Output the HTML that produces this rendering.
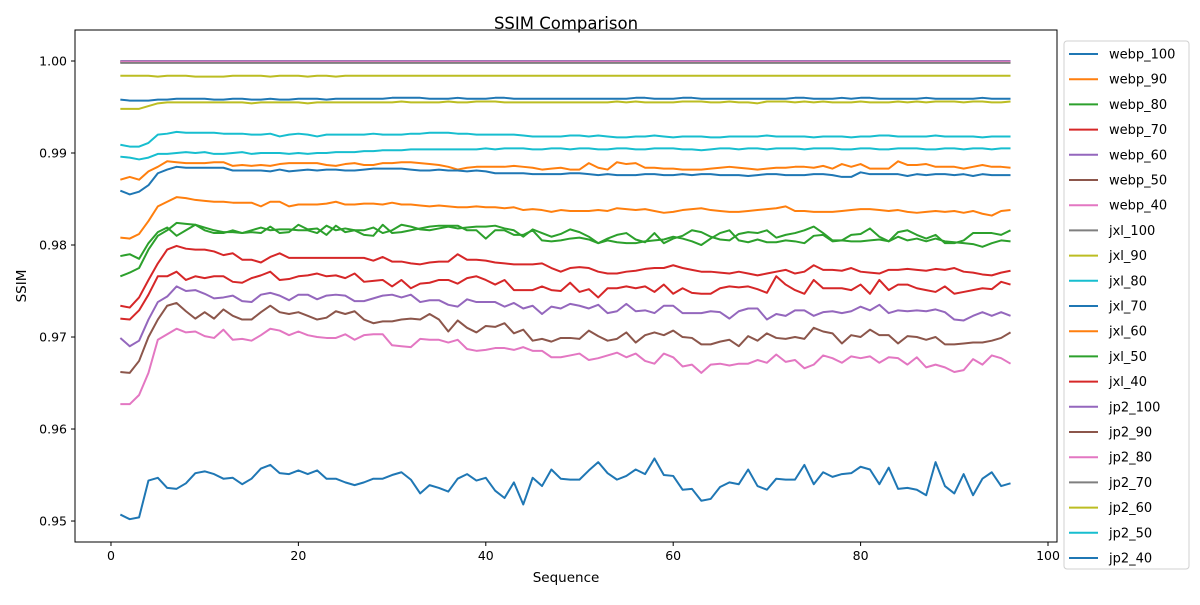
<!DOCTYPE html>
<html><head><meta charset="utf-8"><style>
body{margin:0;background:#fff;font-family:"Liberation Sans","DejaVu Sans",sans-serif}
svg text{font-family:"DejaVu Sans","Liberation Sans",sans-serif;fill:#000}
</style></head><body>
<svg id="chart" width="1200" height="600" xmlns="http://www.w3.org/2000/svg">
<rect width="1200" height="600" fill="#fff"/>
<text x="566" y="29" font-size="16.5" text-anchor="middle">SSIM Comparison</text>
<g id="grid"></g>
<g id="lines"></g>
<rect x="75" y="30" width="982" height="512" fill="none" stroke="#000" stroke-width="1"/>
<g id="axes"></g>
<text x="566" y="582" font-size="13.5" text-anchor="middle">Sequence</text>
<text transform="translate(26,286) rotate(-90)" font-size="13.5" text-anchor="middle">SSIM</text>
<g id="legend"></g>
</svg>
<script>
const seriesNames = ["webp_100","webp_90","webp_80","webp_70","webp_60","webp_50","webp_40","jxl_100","jxl_90","jxl_80","jxl_70","jxl_60","jxl_50","jxl_40","jp2_100","jp2_90","jp2_80","jp2_70","jp2_60","jp2_50","jp2_40"];
const seriesColors = ["#1f77b4","#ff7f0e","#2ca02c","#d62728","#9467bd","#8c564b","#e377c2","#7f7f7f","#bcbd22","#17becf","#1f77b4","#ff7f0e","#2ca02c","#d62728","#9467bd","#8c564b","#e377c2","#7f7f7f","#bcbd22","#17becf","#1f77b4"];
const xTicks = [0,20,40,60,80,100];
const yTicks = [0.95,0.96,0.97,0.98,0.99,1.00];
const yTickLabels = ["0.95","0.96","0.97","0.98","0.99","1.00"];

const webp_100 = [.9958,.9957,.9957,.9957,.9958,.9958,.9959,.9959,.9959,.9959,.9958,.9958,.9959,.9959,.9958,.9958,.9959,.9958,.9958,.9959,.9959,.9959,.9958,.9959,.9959,.9959,.9959,.9959,.9959,.9960,.9960,.9960,.9960,.9959,.9959,.9959,.9960,.9959,.9959,.9959,.9960,.9960,.9959,.9959,.9959,.9959,.9959,.9959,.9959,.9959,.9959,.9959,.9959,.9959,.9959,.9960,.9960,.9959,.9959,.9959,.9960,.9960,.9959,.9959,.9959,.9959,.9959,.9959,.9959,.9959,.9959,.9959,.9960,.9960,.9959,.9959,.9959,.9960,.9959,.9960,.9960,.9959,.9959,.9959,.9959,.9959,.9960,.9959,.9959,.9959,.9959,.9959,.9960,.9959,.9959,.9959];
const webp_90 = [.9871,.9874,.9871,.9880,.9885,.9891,.9890,.9889,.9889,.9889,.9890,.9890,.9886,.9887,.9886,.9887,.9886,.9888,.9889,.9889,.9889,.9889,.9887,.9886,.9888,.9889,.9887,.9887,.9889,.9889,.9890,.9890,.9889,.9888,.9887,.9885,.9882,.9884,.9885,.9885,.9885,.9885,.9886,.9885,.9884,.9882,.9883,.9884,.9882,.9882,.9889,.9884,.9882,.9890,.9888,.9889,.9884,.9884,.9883,.9883,.9882,.9882,.9882,.9883,.9884,.9885,.9884,.9883,.9882,.9883,.9884,.9884,.9885,.9885,.9884,.9886,.9883,.9888,.9885,.9888,.9883,.9883,.9883,.9891,.9887,.9887,.9888,.9885,.9885,.9885,.9883,.9885,.9887,.9885,.9885,.9884];
const webp_80 = [.9788,.9790,.9785,.9802,.9814,.9819,.9810,.9816,.9822,.9816,.9813,.9813,.9816,.9813,.9816,.9819,.9816,.9817,.9817,.9816,.9816,.9813,.9821,.9816,.9818,.9816,.9816,.9819,.9813,.9816,.9822,.9820,.9817,.9816,.9818,.9820,.9818,.9819,.9820,.9820,.9821,.9818,.9816,.9809,.9817,.9813,.9809,.9812,.9817,.9814,.9809,.9802,.9807,.9811,.9813,.9806,.9803,.9813,.9802,.9807,.9810,.9816,.9814,.9809,.9806,.9805,.9812,.9814,.9813,.9816,.9808,.9811,.9813,.9816,.9820,.9813,.9805,.9805,.9811,.9812,.9818,.9809,.9804,.9814,.9816,.9811,.9807,.9811,.9802,.9802,.9805,.9813,.9813,.9813,.9811,.9816];
const webp_70 = [.9734,.9732,.9743,.9762,.9780,.9795,.9799,.9796,.9795,.9795,.9793,.9789,.9791,.9784,.9784,.9781,.9787,.9791,.9786,.9786,.9786,.9786,.9786,.9786,.9786,.9786,.9786,.9783,.9787,.9782,.9782,.9780,.9779,.9781,.9782,.9782,.9790,.9784,.9784,.9783,.9781,.9780,.9779,.9779,.9779,.9780,.9775,.9771,.9775,.9776,.9775,.9771,.9769,.9769,.9771,.9772,.9774,.9775,.9775,.9778,.9775,.9773,.9771,.9771,.9770,.9769,.9771,.9769,.9767,.9769,.9771,.9773,.9769,.9771,.9778,.9773,.9773,.9772,.9775,.9771,.9770,.9769,.9773,.9773,.9774,.9773,.9772,.9774,.9773,.9775,.9771,.9770,.9768,.9767,.9770,.9772];
const webp_60 = [.9699,.9690,.9696,.9719,.9738,.9744,.9755,.9750,.9751,.9747,.9742,.9743,.9745,.9739,.9738,.9746,.9748,.9745,.9740,.9746,.9746,.9741,.9745,.9746,.9745,.9739,.9739,.9742,.9745,.9746,.9743,.9746,.9738,.9740,.9740,.9735,.9733,.9741,.9738,.9738,.9738,.9733,.9737,.9731,.9734,.9725,.9733,.9731,.9736,.9734,.9731,.9735,.9726,.9728,.9736,.9728,.9729,.9726,.9734,.9734,.9726,.9726,.9726,.9728,.9727,.9720,.9728,.9731,.9731,.9719,.9725,.9723,.9729,.9729,.9723,.9727,.9728,.9726,.9728,.9733,.9729,.9735,.9726,.9729,.9728,.9729,.9728,.9730,.9727,.9719,.9718,.9723,.9727,.9723,.9727,.9723];
const webp_50 = [.9662,.9661,.9674,.9700,.9719,.9734,.9737,.9728,.9720,.9727,.9720,.9730,.9723,.9719,.9719,.9727,.9734,.9727,.9725,.9727,.9723,.9719,.9721,.9728,.9725,.9728,.9719,.9715,.9717,.9717,.9719,.9720,.9719,.9725,.9719,.9706,.9718,.9710,.9705,.9712,.9711,.9715,.9704,.9708,.9696,.9698,.9695,.9699,.9699,.9698,.9707,.9701,.9696,.9698,.9705,.9694,.9702,.9705,.9702,.9707,.9700,.9699,.9692,.9692,.9695,.9697,.9690,.9701,.9696,.9704,.9699,.9698,.9700,.9698,.9710,.9706,.9704,.9693,.9702,.9700,.9708,.9702,.9702,.9693,.9701,.9700,.9697,.9700,.9692,.9692,.9693,.9694,.9694,.9696,.9699,.9705];
const webp_40 = [.9627,.9627,.9637,.9661,.9697,.9703,.9709,.9705,.9706,.9701,.9699,.9708,.9697,.9698,.9696,.9702,.9709,.9707,.9702,.9706,.9702,.9700,.9699,.9699,.9703,.9697,.9702,.9703,.9703,.9691,.9690,.9689,.9698,.9697,.9697,.9694,.9697,.9687,.9685,.9686,.9688,.9688,.9686,.9689,.9685,.9685,.9678,.9678,.9680,.9682,.9675,.9677,.9680,.9683,.9678,.9682,.9674,.9671,.9682,.9678,.9668,.9670,.9661,.9670,.9671,.9669,.9671,.9671,.9675,.9672,.9681,.9673,.9675,.9666,.9670,.9680,.9677,.9672,.9679,.9677,.9679,.9672,.9678,.9677,.9670,.9678,.9667,.9670,.9667,.9662,.9664,.9676,.9670,.9680,.9677,.9671];
const jxl_100 = [.99999,.99999,.99999,.99999,.99999,.99999,.99999,.99999,.99999,.99999,.99999,.99999,.99999,.99999,.99999,.99999,.99999,.99999,.99999,.99999,.99999,.99999,.99999,.99999,.99999,.99999,.99999,.99999,.99999,.99999,.99999,.99999,.99999,.99999,.99999,.99999,.99999,.99999,.99999,.99999,.99999,.99999,.99999,.99999,.99999,.99999,.99999,.99999,.99999,.99999,.99999,.99999,.99999,.99999,.99999,.99999,.99999,.99999,.99999,.99999,.99999,.99999,.99999,.99999,.99999,.99999,.99999,.99999,.99999,.99999,.99999,.99999,.99999,.99999,.99999,.99999,.99999,.99999,.99999,.99999,.99999,.99999,.99999,.99999,.99999,.99999,.99999,.99999,.99999,.99999,.99999,.99999,.99999,.99999,.99999,.99999];
const jxl_90 = [.9984,.9984,.9984,.9984,.9983,.9984,.9984,.9984,.9983,.9983,.9983,.9983,.9984,.9984,.9984,.9984,.9983,.9984,.9984,.9984,.9983,.9984,.9984,.9983,.9984,.9984,.9984,.9984,.9984,.9984,.9984,.9984,.9984,.9984,.9984,.9984,.9984,.9984,.9984,.9984,.9984,.9984,.9984,.9984,.9984,.9984,.9984,.9984,.9984,.9984,.9984,.9984,.9984,.9984,.9984,.9984,.9984,.9984,.9984,.9984,.9984,.9984,.9984,.9984,.9984,.9984,.9984,.9984,.9984,.9984,.9984,.9984,.9984,.9984,.9984,.9984,.9984,.9984,.9984,.9984,.9984,.9984,.9984,.9984,.9984,.9984,.9984,.9984,.9984,.9984,.9984,.9984,.9984,.9984,.9984,.9984];
const jxl_80 = [.9909,.9907,.9907,.9911,.9920,.9921,.9923,.9922,.9922,.9922,.9922,.9921,.9921,.9921,.9920,.9920,.9921,.9918,.9920,.9921,.9920,.9918,.9920,.9920,.9920,.9920,.9920,.9921,.9920,.9920,.9920,.9921,.9921,.9922,.9922,.9922,.9921,.9921,.9920,.9920,.9920,.9920,.9920,.9919,.9918,.9918,.9918,.9918,.9919,.9919,.9918,.9919,.9918,.9917,.9917,.9918,.9918,.9919,.9918,.9917,.9918,.9918,.9918,.9917,.9917,.9918,.9918,.9918,.9918,.9919,.9918,.9918,.9918,.9918,.9917,.9918,.9918,.9918,.9917,.9918,.9918,.9919,.9919,.9918,.9918,.9918,.9918,.9919,.9918,.9918,.9918,.9918,.9917,.9918,.9918,.9918];
const jxl_70 = [.9859,.9855,.9858,.9865,.9878,.9882,.9885,.9884,.9884,.9884,.9884,.9884,.9881,.9881,.9881,.9881,.9880,.9882,.9880,.9881,.9882,.9881,.9882,.9882,.9881,.9881,.9882,.9883,.9883,.9883,.9883,.9882,.9881,.9881,.9882,.9881,.9881,.9880,.9881,.9880,.9878,.9878,.9878,.9878,.9877,.9877,.9877,.9877,.9878,.9878,.9877,.9876,.9877,.9876,.9876,.9876,.9877,.9877,.9876,.9876,.9877,.9876,.9877,.9877,.9876,.9876,.9876,.9875,.9876,.9877,.9877,.9876,.9876,.9876,.9877,.9877,.9876,.9874,.9874,.9879,.9877,.9877,.9877,.9877,.9875,.9877,.9876,.9877,.9877,.9876,.9877,.9875,.9877,.9876,.9876,.9876];
const jxl_60 = [.9808,.9807,.9812,.9826,.9842,.9847,.9852,.9851,.9849,.9848,.9847,.9847,.9846,.9846,.9846,.9842,.9847,.9847,.9842,.9844,.9844,.9844,.9845,.9847,.9844,.9844,.9845,.9845,.9844,.9846,.9844,.9844,.9843,.9842,.9843,.9842,.9841,.9841,.9842,.9841,.9841,.9840,.9841,.9838,.9839,.9838,.9836,.9838,.9837,.9837,.9837,.9838,.9837,.9840,.9839,.9838,.9839,.9837,.9835,.9836,.9838,.9839,.9840,.9838,.9837,.9836,.9836,.9837,.9838,.9839,.9840,.9842,.9837,.9837,.9836,.9836,.9836,.9837,.9838,.9839,.9839,.9838,.9837,.9838,.9836,.9835,.9836,.9837,.9836,.9837,.9835,.9837,.9834,.9832,.9837,.9838];
const jxl_50 = [.9766,.9770,.9775,.9795,.9810,.9816,.9824,.9823,.9822,.9819,.9816,.9814,.9814,.9813,.9814,.9813,.9820,.9813,.9814,.9822,.9817,.9818,.9811,.9821,.9814,.9816,.9811,.9810,.9822,.9813,.9814,.9816,.9818,.9820,.9821,.9821,.9821,.9816,.9816,.9807,.9816,.9816,.9811,.9811,.9816,.9805,.9804,.9805,.9807,.9808,.9806,.9802,.9805,.9803,.9802,.9802,.9804,.9805,.9806,.9809,.9807,.9804,.9800,.9807,.9813,.9816,.9805,.9803,.9806,.9803,.9803,.9805,.9804,.9802,.9810,.9811,.9804,.9805,.9804,.9804,.9805,.9806,.9804,.9809,.9805,.9807,.9804,.9807,.9804,.9803,.9802,.9801,.9798,.9802,.9805,.9804];
const jxl_40 = [.9720,.9719,.9729,.9746,.9766,.9766,.9771,.9762,.9766,.9764,.9766,.9766,.9760,.9759,.9764,.9767,.9771,.9762,.9763,.9766,.9767,.9769,.9766,.9767,.9764,.9769,.9760,.9761,.9762,.9755,.9762,.9753,.9758,.9759,.9762,.9762,.9758,.9764,.9766,.9762,.9757,.9762,.9751,.9751,.9751,.9755,.9751,.9750,.9759,.9749,.9752,.9743,.9753,.9753,.9755,.9753,.9755,.9749,.9757,.9747,.9753,.9748,.9747,.9747,.9753,.9755,.9754,.9755,.9752,.9748,.9766,.9757,.9751,.9747,.9762,.9753,.9753,.9753,.9751,.9757,.9747,.9762,.9751,.9757,.9757,.9753,.9751,.9749,.9755,.9747,.9749,.9751,.9753,.9752,.9760,.9757];
const jp2_100 = [.99998,.99998,.99998,.99998,.99998,.99998,.99998,.99998,.99998,.99998,.99998,.99998,.99998,.99998,.99998,.99998,.99998,.99998,.99998,.99998,.99998,.99998,.99998,.99998,.99998,.99998,.99998,.99998,.99998,.99998,.99998,.99998,.99998,.99998,.99998,.99998,.99998,.99998,.99998,.99998,.99998,.99998,.99998,.99998,.99998,.99998,.99998,.99998,.99998,.99998,.99998,.99998,.99998,.99998,.99998,.99998,.99998,.99998,.99998,.99998,.99998,.99998,.99998,.99998,.99998,.99998,.99998,.99998,.99998,.99998,.99998,.99998,.99998,.99998,.99998,.99998,.99998,.99998,.99998,.99998,.99998,.99998,.99998,.99998,.99998,.99998,.99998,.99998,.99998,.99998,.99998,.99998,.99998,.99998,.99998,.99998];
const jp2_90 = [.99985,.99985,.99985,.99985,.99985,.99985,.99985,.99985,.99985,.99985,.99985,.99985,.99985,.99985,.99985,.99985,.99985,.99985,.99985,.99985,.99985,.99985,.99985,.99985,.99985,.99985,.99985,.99985,.99985,.99985,.99985,.99985,.99985,.99985,.99985,.99985,.99985,.99985,.99985,.99985,.99985,.99985,.99985,.99985,.99985,.99985,.99985,.99985,.99985,.99985,.99985,.99985,.99985,.99985,.99985,.99985,.99985,.99985,.99985,.99985,.99985,.99985,.99985,.99985,.99985,.99985,.99985,.99985,.99985,.99985,.99985,.99985,.99985,.99985,.99985,.99985,.99985,.99985,.99985,.99985,.99985,.99985,.99985,.99985,.99985,.99985,.99985,.99985,.99985,.99985,.99985,.99985,.99985,.99985,.99985,.99985];
const jp2_80 = [.99990,.99990,.99990,.99990,.99990,.99990,.99990,.99990,.99990,.99990,.99990,.99990,.99990,.99990,.99990,.99990,.99990,.99990,.99990,.99990,.99990,.99990,.99990,.99990,.99990,.99990,.99990,.99990,.99990,.99990,.99990,.99990,.99990,.99990,.99990,.99990,.99990,.99990,.99990,.99990,.99990,.99990,.99990,.99990,.99990,.99990,.99990,.99990,.99990,.99990,.99990,.99990,.99990,.99990,.99990,.99990,.99990,.99990,.99990,.99990,.99990,.99990,.99990,.99990,.99990,.99990,.99990,.99990,.99990,.99990,.99990,.99990,.99990,.99990,.99990,.99990,.99990,.99990,.99990,.99990,.99990,.99990,.99990,.99990,.99990,.99990,.99990,.99990,.99990,.99990,.99990,.99990,.99990,.99990,.99990,.99990];
const jp2_70 = [.99980,.99980,.99980,.99980,.99980,.99980,.99980,.99980,.99980,.99980,.99980,.99980,.99980,.99980,.99980,.99980,.99980,.99980,.99980,.99980,.99980,.99980,.99980,.99980,.99980,.99980,.99980,.99980,.99980,.99980,.99980,.99980,.99980,.99980,.99980,.99980,.99980,.99980,.99980,.99980,.99980,.99980,.99980,.99980,.99980,.99980,.99980,.99980,.99980,.99980,.99980,.99980,.99980,.99980,.99980,.99980,.99980,.99980,.99980,.99980,.99980,.99980,.99980,.99980,.99980,.99980,.99980,.99980,.99980,.99980,.99980,.99980,.99980,.99980,.99980,.99980,.99980,.99980,.99980,.99980,.99980,.99980,.99980,.99980,.99980,.99980,.99980,.99980,.99980,.99980,.99980,.99980,.99980,.99980,.99980,.99980];
const jp2_60 = [.9948,.9948,.9948,.9951,.9954,.9955,.9955,.9955,.9955,.9955,.9955,.9955,.9955,.9955,.9954,.9955,.9955,.9955,.9955,.9955,.9954,.9955,.9955,.9955,.9955,.9955,.9955,.9955,.9955,.9955,.9956,.9955,.9955,.9955,.9955,.9956,.9955,.9955,.9956,.9956,.9956,.9955,.9955,.9955,.9955,.9955,.9955,.9955,.9955,.9955,.9955,.9955,.9955,.9956,.9955,.9956,.9955,.9955,.9955,.9955,.9956,.9956,.9956,.9955,.9955,.9956,.9955,.9955,.9954,.9956,.9956,.9956,.9955,.9956,.9955,.9956,.9955,.9955,.9955,.9956,.9955,.9955,.9955,.9956,.9955,.9956,.9955,.9956,.9956,.9956,.9955,.9956,.9956,.9955,.9955,.9956];
const jp2_50 = [.9896,.9895,.9893,.9895,.9899,.9899,.9900,.9901,.9900,.9901,.9899,.9899,.9900,.9901,.9899,.9900,.9900,.9900,.9899,.9900,.9899,.9900,.9900,.9901,.9901,.9901,.9902,.9902,.9903,.9903,.9903,.9904,.9904,.9904,.9904,.9904,.9904,.9904,.9904,.9905,.9904,.9905,.9905,.9905,.9904,.9904,.9905,.9905,.9904,.9905,.9905,.9904,.9904,.9905,.9905,.9904,.9904,.9905,.9905,.9905,.9904,.9904,.9903,.9904,.9905,.9905,.9904,.9905,.9905,.9904,.9905,.9905,.9905,.9904,.9905,.9905,.9905,.9904,.9904,.9905,.9905,.9904,.9904,.9905,.9905,.9905,.9904,.9904,.9905,.9905,.9904,.9905,.9905,.9904,.9905,.9905];
const jp2_40 = [.9507,.9502,.9504,.9544,.9547,.9536,.9535,.9541,.9552,.9554,.9551,.9546,.9547,.9540,.9546,.9557,.9561,.9552,.9551,.9555,.9551,.9555,.9546,.9546,.9542,.9539,.9542,.9546,.9546,.9550,.9553,.9545,.9530,.9539,.9536,.9532,.9546,.9551,.9544,.9547,.9533,.9525,.9542,.9518,.9547,.9538,.9556,.9546,.9545,.9545,.9555,.9564,.9552,.9545,.9549,.9556,.9551,.9568,.9550,.9549,.9534,.9535,.9522,.9524,.9537,.9542,.9540,.9556,.9538,.9534,.9546,.9545,.9545,.9561,.9540,.9553,.9548,.9551,.9552,.9559,.9556,.9540,.9558,.9535,.9536,.9534,.9528,.9564,.9538,.9530,.9551,.9528,.9546,.9553,.9538,.9541];

const allSeries = [webp_100,webp_90,webp_80,webp_70,webp_60,webp_50,webp_40,jxl_100,jxl_90,jxl_80,jxl_70,jxl_60,jxl_50,jxl_40,jp2_100,jp2_90,jp2_80,jp2_70,jp2_60,jp2_50,jp2_40];

const NS = "http://www.w3.org/2000/svg";
const PL = 75, PR = 1057, PT = 30, PB = 542;
const XMIN = -3.84, XMAX = 100.96, YMIN = 0.94772, YMAX = 1.00337;
function xs(v){ return PL + (v - XMIN) / (XMAX - XMIN) * (PR - PL); }
function ys(v){ return PB - (v - YMIN) / (YMAX - YMIN) * (PB - PT); }
function mk(tag, attrs, parent){
  const e = document.createElementNS(NS, tag);
  for (const k in attrs) e.setAttribute(k, attrs[k]);
  parent.appendChild(e);
  return e;
}
const axes = document.getElementById("axes");
xTicks.forEach(t => {
  const x = xs(t);
  const tk = mk("line", {x1:x, x2:x, y1:PB, y2:PB+4, stroke:"#000"}, axes);
  
  
  const lb = mk("text", {x:x, y:PB+18, "font-size":"12.5", "text-anchor":"middle"}, axes);
  lb.textContent = t;
  
  
});
yTicks.forEach((t, i) => {
  const y = ys(t);
  const tk = mk("line", {x1:PL-4, x2:PL, y1:y, y2:y, stroke:"#000"}, axes);
  
  
  const lb = mk("text", {x:PL-8, y:y+4.5, "font-size":"12.5", "text-anchor":"end"}, axes);
  lb.textContent = yTickLabels[i];
  
  
});
const lines = document.getElementById("lines");
allSeries.forEach((arr, si) => {
  const pts = arr.map((v, i) => xs(i + 1).toFixed(2) + "," + ys(v).toFixed(2)).join(" ");
  const pl = mk("polyline", {points:pts, fill:"none", stroke:seriesColors[si], "stroke-width":"2", "stroke-linejoin":"round"}, lines);
  
  
});
const legend = document.getElementById("legend");
const lbox = mk("rect", {x:1064, y:41, width:125, height:528, rx:3, fill:"#fff", stroke:"#d0d0d0"}, legend);


seriesNames.forEach((n, i) => {
  const y = 54 + i * 25.2;
  const g = mk("g", {}, legend);
  
  
  mk("line", {x1:1069, x2:1098, y1:y, y2:y, stroke:seriesColors[i], "stroke-width":"2"}, g);
  const t = mk("text", {x:1109, y:y+4.5, "font-size":"13"}, g);
  t.textContent = n;
});
</script>
</body></html>
